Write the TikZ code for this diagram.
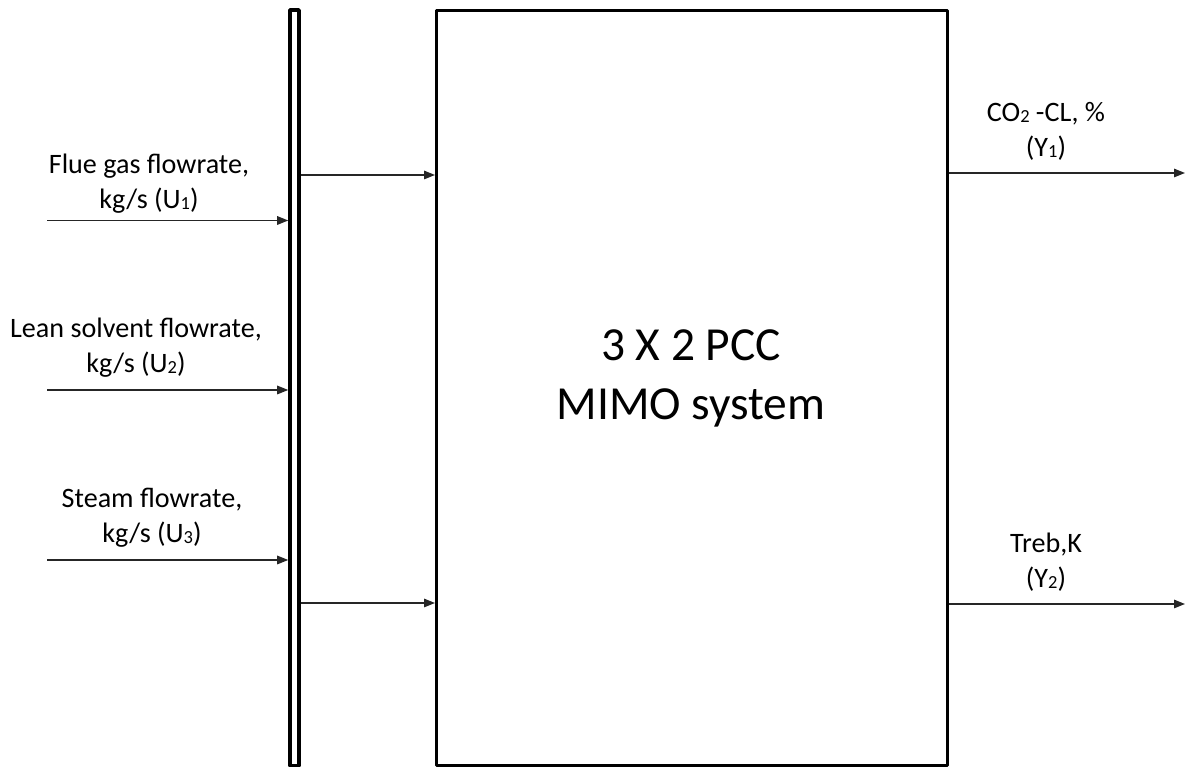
\documentclass[tikz,border=0pt]{standalone}
\usepackage{fontspec}
\setmainfont{Carlito}
\usetikzlibrary{arrows.meta,calc}
\newcommand{\sidx}[1]{\raisebox{-0.6pt}{\fontsize{10.5}{10.5}\selectfont #1}}

\begin{document}
\begin{tikzpicture}[>={Triangle[length=0.22cm,width=0.17cm]}, line join=round, font=\fontsize{16}{20}\selectfont]
	\tikzset{lbl/.style={align=center, inner sep=0pt},
		flow/.style={->, line width=0.8pt, draw=black!85, fill=black}}
	\useasboundingbox (0,0) rectangle (23.78,15.34);
	% the system block and the input bar
	\node[draw, line width=1.7pt, minimum width=10.21cm, minimum height=15.1cm, inner sep=0pt] (pcc) at (13.835,7.58) {};
	\node[draw, line width=2pt, minimum width=0.18cm, minimum height=15.12cm, inner sep=0pt] (bus) at (5.89,7.58) {};
	\node[font=\fontsize{27}{33.5}\selectfont, align=center, inner sep=0pt] (title) at (13.82,7.77) {3 X 2 PCC\\MIMO system};
	% inputs
	\coordinate (u1) at (0.94,10.93);
	\coordinate (u2) at (0.94,7.54);
	\coordinate (u3) at (0.94,4.14);
	\draw[flow] (u1) -- (u1 -| bus.west);
	\draw[flow] (u2) -- (u2 -| bus.west);
	\draw[flow] (u3) -- (u3 -| bus.west);
	\node[lbl] (lu1) at (2.98,11.67) {Flue gas flowrate,\\kg/s (U\sidx{1})};
	\node[lbl] (lu2) at (2.72,8.38) {Lean solvent flowrate,\\kg/s (U\sidx{2})};
	\node[lbl] (lu3) at (3.04,4.99) {Steam flowrate,\\kg/s (U\sidx{3})};
	% bar to block
	\draw[flow] (bus.east |- 0,11.84) -- (pcc.west |- 0,11.84);
	\draw[flow] (bus.east |- 0,3.28) -- (pcc.west |- 0,3.28);
	% outputs
	\coordinate (y1) at (23.70,11.88);
	\coordinate (y2) at (23.70,3.26);
	\draw[flow] (pcc.east |- y1) -- (y1);
	\draw[flow] (pcc.east |- y2) -- (y2);
	\node[lbl] (ly1) at (20.92,12.71) {CO\sidx{2} -CL, \%\\(Y\sidx{1})};
	\node[lbl] (ly2) at (20.92,4.10) {Treb,K\\(Y\sidx{2})};
\end{tikzpicture}
\end{document}
